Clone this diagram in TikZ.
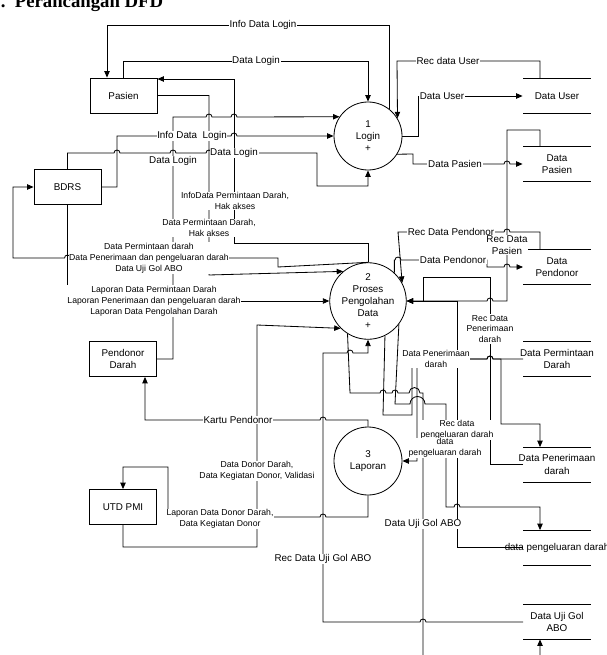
\documentclass[tikz,border=0pt]{standalone}
\usepackage{fontspec}
\setmainfont{Liberation Sans}
\newfontfamily\titlefont{Liberation Serif}
\usetikzlibrary{arrows.meta}

\newcommand{\fnorm}{\fontsize{8.4}{10.4}\selectfont}
\newcommand{\fsmall}{\fontsize{7.4}{9.3}\selectfont}

\tikzset{
  extbox/.style={draw, minimum width=2.01cm, minimum height=1.05cm, inner sep=0pt, align=center, font=\fnorm},
  procnode/.style={draw, circle, minimum size=2.04cm, inner sep=0pt, align=center, font=\fnorm},
  storenode/.style={minimum width=2.04cm, minimum height=1.02cm, inner sep=0pt, align=center, font=\fnorm},
  flowlbl/.style={fill=white, inner sep=0.6pt, align=center, font=\fnorm},
  smalllbl/.style={fill=white, inner sep=0.6pt, align=center, font=\fsmall},
  hopr/.style={insert path={arc[start angle=180,end angle=360,radius=#1]}},
  hopr/.default=3,
  hopl/.style={insert path={arc[start angle=0,end angle=-180,radius=#1]}},
  hopl/.default=3
}

\begin{document}
\begin{tikzpicture}[x=0.03cm, y=-0.03cm, line width=0.7pt, >={Triangle[length=5.5pt,width=4.6pt]}]
\useasboundingbox (0,0) rectangle (606,655);

\node[anchor=base west, inner sep=0pt, font=\titlefont\bfseries\fontsize{16}{16}\selectfont] (title) at (-9,8) {2.\hspace{8pt}Perancangan DFD};

% entitas luar
\node[extbox] (pasien) at (123.5,95.5) {Pasien};
\node[extbox] (bdrs) at (67.5,187) {BDRS};
\node[extbox] (pendonor) at (123,359) {Pendonor\\Darah};
\node[extbox] (utd) at (123,507) {UTD PMI};

% proses
\node[procnode] (p1) at (368,136) {1\\Login\\+};
\node[procnode] (p2) at (368,301) {2\\Proses\\Pengolahan\\Data\\+};
\node[procnode] (p3) at (368,461) {3\\Laporan};

% data store
\node[storenode] (sUser) at (557,96) {Data User};
\node[storenode] (sPasien) at (557,164) {Data\\Pasien};
\node[storenode] (sPendonor) at (557,267) {Data\\Pendonor};
\node[storenode] (sPermintaan) at (557,359) {Data Permintaan\\Darah};
\node[storenode] (sPenerimaan) at (557,464.5) {Data Penerimaan\\darah};
\node[storenode] (sKeluar) at (557,547.5) {data pengeluaran darah};
\node[storenode] (sUji) at (557,622) {Data Uji Gol\\ABO};
\foreach \s in {sUser,sPasien,sPendonor,sPermintaan,sPenerimaan,sKeluar,sUji}
  \draw ([xshift=-1.02cm]\s.north) -- ([xshift=1.02cm]\s.north)
        ([xshift=-1.02cm]\s.south) -- ([xshift=1.02cm]\s.south);

% login
\draw[->] (pasien.north) -- (123.5,61) -- (368,61) -- (p1.north);
\draw[->] (p1.52) -- (p1.52 |- 0,25) -- (107,25) -- (107,0 |- pasien.north);
\draw[->] ([xshift=-0.51cm]sUser.north) |- (397,61) -- (p1.31);
\draw[->] (p1.east) -- (418,136) |- (sUser.west);
\draw[->] (p1.328) -- (413,154) -- (413,164) -- (504,164) [hopr] -- (sPasien.west);
\draw[->] (bdrs.east) -- (117,187) -- (117,136) -- (231,136) [hopr] -- (p1.west);
\draw[->] (pendonor.east) -- (173,359) -- (173,117) -- (206,117) [hopr] -- (231,117) [hopr] -- (p1.146);
\draw[->] (bdrs.north) -- (67.5,153) -- (114,153) [hopr] -- (170,153) [hopr] -- (206,153) [hopr]
  -- (317,153) -- (317,186) -- (368,186) -- (p1.south);

% proses pengolahan data
\draw[->] (pasien.east) -- (209,95.5) -- (209,275) -- (p2.130);
\draw[->] (p2.north) -- (368,243) -- (234,243) -- (234,79) -- (pasien.east |- 0,79);
\draw[->] (p2.north) -- (278,267) -- (278,258) -- (70.5,258) [hopl] -- (13,258) -- (13,187) -- (bdrs.west);
\draw[->] (bdrs.south) -- (67.5,301) -- (p2.west);
\draw[->] (utd.south) -- (123,547) -- (257,547) -- (257,325) -- (p2.225);
\draw[->] ([xshift=-0.51cm]sPendonor.north) -- (540,232) -- (510,232) [hopl] -- (398,232) -- (p2.28);
\draw[->] (p2.47) -- (p2.47 |- 0,260) -- (395,260) [hopr] -- (487,260) -- (487,267) -- (504,267) [hopr]
  -- ([xshift=-1.02cm]sPendonor.center);
\draw[->] ([xshift=-0.51cm]sPasien.north) -- (540,130) -- (507,130) -- (507,301) -- (493,301) [hopl] -- (p2.east);
\draw[->] ([xshift=-1.02cm]sPenerimaan.center) -- (490,464.5) -- (490,277) -- (423,277) -- (423,301) -- (p2.east);
\draw[->] ([xshift=-1.02cm]sKeluar.center) -- (457,547.5) -- (457,301) -- (p2.east);
\draw[->] ([xshift=-1.02cm]sUji.center) -- (426,622) [hopl] -- (323,622) -- (323,353) -- (347,353) [hopr]
  -- (368,353) -- (p2.south);
\draw[->] (p2.238) -- (350,393) -- (380,393) [hopr] -- (392,393) [hopr] -- (409,393) [hopr=5.5] -- (423,393)
  -- (423,670) -- (540,670) -- ([xshift=-0.51cm]sUji.south);
\draw[->] (p2.296) -- (383,415) -- (412,415) -- (412,359) -- (487,359) [hopr] -- (501,359) -- (501,424)
  -- (540,424) -- ([xshift=-0.51cm]sPenerimaan.north);
\draw[->] ([xshift=-1.02cm]sPermintaan.center) -- (493,359) [hopl] -- (417,359) -- (417,461) -- (p3.east);
\draw[->] (p2.323) -- (395,404) -- (410,404) [hopr=7.5] -- (446,404) -- (446,507) -- (454,507) [hopr]
  -- (540,507) -- ([xshift=-0.51cm]sKeluar.north);

% laporan
\draw[->] (p3.north) -- (368,420) -- (326,420) [hopl] -- (145,420) -- (145,0 |- pendonor.south);
\draw[->] (p3.south) -- (368,517) -- (326,517) [hopl] -- (168,517) -- (168,467) -- (123,467) -- (utd.north);

% label aliran data
\node[flowlbl] (lInfoLogin) at (263,25) {Info Data Login};
\node[flowlbl] (lDataLoginA) at (256,61) {Data Login};
\node[flowlbl] (lRecUser) at (448,61) {Rec data User};
\node[flowlbl] (lDataUser) at (442,96) {Data User};
\node[flowlbl] (lDataPasien) at (455,164) {Data Pasien};
\node[flowlbl] (lInfoLoginB) at (192,136) {Info Data\ \ Login};
\node[flowlbl] (lDataLoginB) at (173,161) {Data Login};
\node[flowlbl] (lDataLoginC) at (234,153) {Data Login};
\node[smalllbl] (lInfoMinta) at (235,201) {InfoData Permintaan Darah,\\Hak akses};
\node[smalllbl] (lMinta) at (209,228) {Data Permintaan Darah,\\Hak akses};
\node[smalllbl] (lKeBdrs) at (149,258) {Data Permintaan darah\\Data Penerimaan dan pengeluaran darah\\Data Uji Gol ABO};
\node[smalllbl] (lLaporan) at (154,301) {Laporan Data Permintaan Darah\\Laporan Penerimaan dan pengeluaran darah\\Laporan Data Pengolahan Darah};
\node[smalllbl] (lDonor) at (257,471) {Data Donor Darah,\\Data Kegiatan Donor, Validasi};
\node[flowlbl] (lKartu) at (238,420) {Kartu Pendonor};
\node[smalllbl] (lLapDonor) at (220,519) {Laporan Data Donor Darah,\\Data Kegiatan Donor};
\node[flowlbl] (lRecPendonor) at (451,232) {Rec Data Pendonor};
\node[flowlbl] (lPendonor) at (453,260) {Data Pendonor};
\node[flowlbl] (lRecPasien) at (507,245) {Rec Data\\Pasien};
\node[smalllbl] (lRecTerima) at (490,329) {Rec Data\\Penerimaan\\darah};
\node[smalllbl] (lTerima) at (436,359) {Data Penerimaan\\darah};
\node[smalllbl] (lRecKeluar) at (457,430) {Rec data\\pengeluaran darah};
\node[smalllbl] (lKeluar) at (445,448) {data\\pengeluaran darah};
\node[flowlbl] (lUjiAbo) at (423,524) {Data Uji Gol ABO};
\node[flowlbl] (lRecUji) at (323,559) {Rec Data Uji Gol ABO};

\end{tikzpicture}
\end{document}
